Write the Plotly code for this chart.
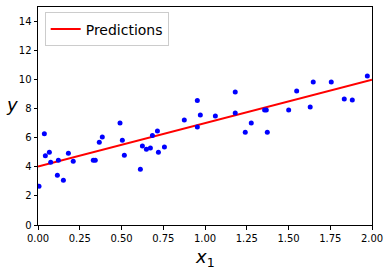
import plotly.graph_objects as go

x_data = [0.006, 0.038, 0.044, 0.068, 0.076, 0.116, 0.122, 0.152, 0.182, 0.211,
          0.331, 0.343, 0.367, 0.385, 0.491, 0.505, 0.517, 0.613, 0.625, 0.649,
          0.673, 0.685, 0.715, 0.721, 0.757, 0.876, 0.954, 0.954, 0.972, 1.062,
          1.181, 1.181, 1.241, 1.277, 1.357, 1.367, 1.373, 1.501, 1.549, 1.630,
          1.648, 1.756, 1.834, 1.882, 1.972]
y_data = [2.67, 6.28, 4.76, 5.01, 4.32, 3.43, 4.46, 3.08, 4.94, 4.39,
          4.46, 4.46, 5.70, 6.05, 7.01, 5.84, 4.80, 3.84, 5.43, 5.22,
          5.29, 6.16, 6.46, 5.01, 5.36, 7.22, 8.57, 6.74, 7.57, 7.50,
          9.15, 7.70, 6.39, 7.01, 7.91, 7.91, 6.39, 7.91, 9.22, 8.12,
          9.84, 9.84, 8.67, 8.60, 10.26]
x_new = [0.0, 2.0]
y_pred = [4.02, 9.99]

fig = go.Figure()
fig.add_trace(go.Scatter(x=x_new, y=y_pred, mode="lines", name="Predictions",
                         line=dict(color="red", width=2)))
fig.add_trace(go.Scatter(x=x_data, y=y_data, mode="markers", showlegend=False,
                         marker=dict(color="blue", size=5)))

axis_common = dict(showline=True, linecolor="black", linewidth=1, mirror=True,
                   ticks="outside", ticklen=3.5, tickcolor="black", showgrid=False,
                   zeroline=False, tickfont=dict(family="DejaVu Sans", size=10, color="black"))
fig.update_xaxes(range=[0, 2], tickvals=[0, 0.25, 0.5, 0.75, 1.0, 1.25, 1.5, 1.75, 2.0],
                 ticktext=["0.00", "0.25", "0.50", "0.75", "1.00", "1.25", "1.50", "1.75", "2.00"],
                 **axis_common)
fig.update_yaxes(range=[0, 15], tickvals=[0, 2, 4, 6, 8, 10, 12, 14], **axis_common)

fig.add_annotation(text="<i>x</i><sub>1</sub>", xref="paper", yref="paper", x=0.5, y=0,
                   yshift=-33, showarrow=False, yanchor="middle",
                   font=dict(family="DejaVu Sans", size=18, color="black"))
fig.add_annotation(text="<i>y</i>", xref="paper", yref="paper", x=0, y=0.555,
                   xshift=-26, showarrow=False, xanchor="center",
                   font=dict(family="DejaVu Sans", size=18, color="black"))

fig.update_layout(width=390, height=270, margin=dict(l=38, r=18, t=7, b=45),
                  plot_bgcolor="white", paper_bgcolor="white",
                  legend=dict(x=0.02, y=0.975, xanchor="left", yanchor="top",
                              bgcolor="rgba(255,255,255,0.8)", bordercolor="#cccccc",
                              borderwidth=1, font=dict(family="DejaVu Sans", size=14, color="black")))
fig.write_html("out.html")
